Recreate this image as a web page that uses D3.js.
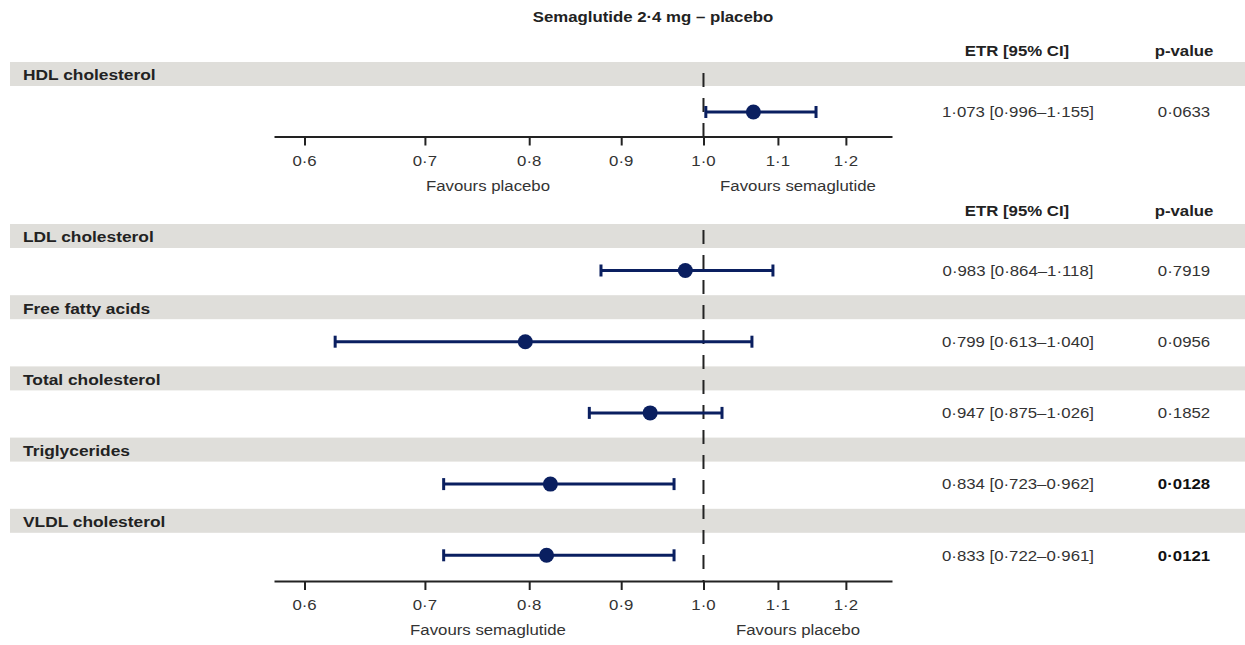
<!DOCTYPE html>
<html>
<head>
<meta charset="utf-8">
<script src="https://cdn.jsdelivr.net/npm/d3@7"></script>
<style>
  body { margin: 0; background: #fff; }
  text { font-family: "Liberation Sans", Arial, sans-serif; fill: #222; }
</style>
</head>
<body>
<svg id="chart" width="1245" height="645"></svg>
<script>
// Rows as drawn in the figure
const top_labels = ['HDL cholesterol'];
const bottom_labels = ['LDL cholesterol', 'Free fatty acids', 'Total cholesterol', 'Triglycerides', 'VLDL cholesterol'];

// plotted estimate and 95% CI ends
const estimates = [1.066, 0.977, 0.796, 0.934, 0.822, 0.818];
const ci_low    = [1.003, 0.877, 0.624, 0.864, 0.717, 0.717];
const ci_high   = [1.155, 1.093, 1.064, 1.024, 0.963, 0.963];

// table text at the right
const etr_text = ['1·073 [0·996–1·155]', '0·983 [0·864–1·118]', '0·799 [0·613–1·040]',
                  '0·947 [0·875–1·026]', '0·834 [0·723–0·962]', '0·833 [0·722–0·961]'];
const p_text   = ['0·0633', '0·7919', '0·0956', '0·1852', '0·0128', '0·0121'];
const p_bold   = [false, false, false, false, true, true];

const tick_values = [0.6, 0.7, 0.8, 0.9, 1.0, 1.1, 1.2];

const svg = d3.select('#chart');
const W = 1245;
const stretch = 1.12;   // the source figure is widened a little
const navy = '#0a1f60';
const band_fill = '#dfdeda';

const x = d3.scaleLog().domain([0.577, 1.273]).range([274, 892]);
const fmt = v => d3.format('.1f')(v).replace('.', '·');

// put a horizontally widened text at (cx, cy)
function label(g, txt, cx, cy, opts) {
    opts = opts || {};
    return g.append('text')
        .attr('transform', `translate(${cx},${cy}) scale(${stretch},1)`)
        .attr('text-anchor', opts.anchor || 'middle')
        .attr('dy', '0.35em')
        .attr('font-size', opts.size || 15)
        .attr('font-weight', opts.bold ? 'bold' : 'normal')
        .style('fill', opts.fill || '#222')
        .text(txt);
}

function header(y) {
    label(svg, 'ETR [95% CI]', 1017, y, {bold: true});
    label(svg, 'p-value', 1184, y, {bold: true});
}

function panel(labels, offset, y_rows, band_gap, axis_y, dash_top, favours) {
    const g = svg.append('g');
    const y = d3.scalePoint().domain(labels).range(y_rows);

    const rows = labels.map((name, i) => ({
        name: name,
        est: estimates[offset + i],
        lo: ci_low[offset + i],
        hi: ci_high[offset + i],
        etr: etr_text[offset + i],
        p: p_text[offset + i],
        bold: p_bold[offset + i]
    }));

    // grey header bands with row names
    g.selectAll('rect.band').data(rows).enter().append('rect')
        .attr('class', 'band')
        .attr('x', 10)
        .attr('y', d => y(d.name) - band_gap)
        .attr('width', W - 10)
        .attr('height', 24)
        .attr('fill', band_fill);

    rows.forEach(d => {
        label(g, d.name, 23, y(d.name) - band_gap + 13, {anchor: 'start', bold: true, size: 15.5});
        label(g, d.etr, 1018, y(d.name), {fill: '#333'});
        label(g, d.p, 1184, y(d.name), {bold: d.bold, fill: d.bold ? '#111' : '#333'});
    });

    // reference line at 1
    g.append('line')
        .attr('x1', x(1)).attr('x2', x(1))
        .attr('y1', dash_top).attr('y2', axis_y)
        .attr('stroke', '#222')
        .attr('stroke-width', 2)
        .attr('stroke-dasharray', '14,11');

    // error bars
    const bars = g.selectAll('g.bar').data(rows).enter().append('g')
        .attr('class', 'bar')
        .attr('transform', d => `translate(0,${y(d.name)})`);

    bars.append('line')
        .attr('x1', d => x(d.lo)).attr('x2', d => x(d.hi))
        .attr('stroke', navy).attr('stroke-width', 3);
    bars.append('line')
        .attr('x1', d => x(d.lo)).attr('x2', d => x(d.lo))
        .attr('y1', -6).attr('y2', 6)
        .attr('stroke', navy).attr('stroke-width', 3);
    bars.append('line')
        .attr('x1', d => x(d.hi)).attr('x2', d => x(d.hi))
        .attr('y1', -6).attr('y2', 6)
        .attr('stroke', navy).attr('stroke-width', 3);
    bars.append('circle')
        .attr('cx', d => x(d.est))
        .attr('r', 7.5)
        .attr('fill', navy);

    // axis
    const ax = g.append('g')
        .attr('transform', `translate(0,${axis_y})`)
        .call(d3.axisBottom(x).tickValues(tick_values).tickFormat(() => '').tickSize(9).tickSizeOuter(0));
    ax.select('.domain').attr('stroke', '#222').attr('stroke-width', 2);
    ax.selectAll('.tick line').attr('stroke', '#222').attr('stroke-width', 2);

    tick_values.forEach(v => label(g, fmt(v), x(v), axis_y + 24, {fill: '#333'}));

    label(g, favours[0], 488, axis_y + 49, {fill: '#333'});
    label(g, favours[1], 798, axis_y + 49, {fill: '#333'});
}

// title
label(svg, 'Semaglutide 2·4 mg – placebo', 653, 17, {bold: true});

header(51);
panel(top_labels, 0, [112, 112], 50, 136.5, 73, ['Favours placebo', 'Favours semaglutide']);

header(211);
panel(bottom_labels, 1, [270.5, 555.3], 46.5, 581, 230, ['Favours semaglutide', 'Favours placebo']);
</script>
</body>
</html>
